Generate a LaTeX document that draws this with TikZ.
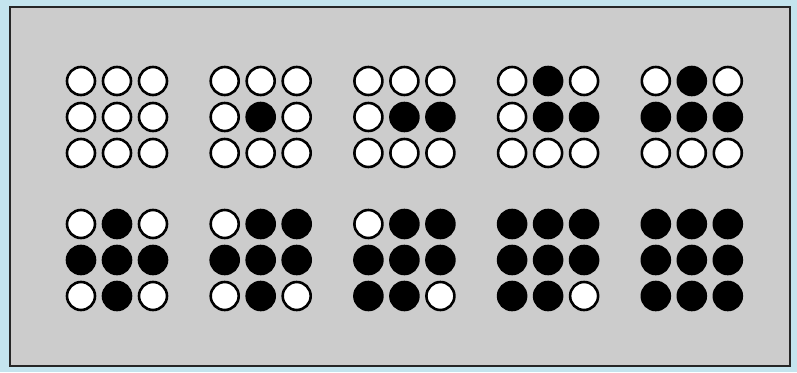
\documentclass[tikz,border=0pt]{standalone}
\begin{document}
\begin{tikzpicture}[x=1pt,y=-1pt,
  dotoff/.style={circle,draw=black,line width=2.6pt,fill=white,minimum size=28pt,inner sep=0pt},
  doton/.style={circle,draw=black,line width=2.6pt,fill=black,minimum size=28pt,inner sep=0pt}]
\definecolor{margblue}{RGB}{196,228,238}
\definecolor{panelgray}{RGB}{204,204,204}
\fill[margblue] (0,0) rectangle (797,372);
\useasboundingbox (0,0) rectangle (797,372);
\fill[panelgray] (10,7) rectangle (790,366);
\draw[line width=2.8pt,black!85] (10,7) rectangle (790,366);
% patterns: rows top->bottom, 1 = filled
\foreach \g/\pat in {0/{0,0,0,0,0,0,0,0,0},1/{0,0,0,0,1,0,0,0,0},2/{0,0,0,0,1,1,0,0,0},3/{0,1,0,0,1,1,0,0,0},4/{0,1,0,1,1,1,0,0,0}}{
  \foreach \v [count=\i from 0] in \pat {
    \pgfmathtruncatemacro{\r}{int(\i/3)}
    \pgfmathtruncatemacro{\c}{mod(\i,3)}
    \pgfmathsetmacro{\xx}{81+143.7*\g+36*\c}
    \pgfmathsetmacro{\yy}{81+36*\r}
    \ifnum\v=1
      \node[doton] (t\g-\i) at (\xx,\yy) {};
    \else
      \node[dotoff] (t\g-\i) at (\xx,\yy) {};
    \fi
  }
}
\foreach \g/\pat in {0/{0,1,0,1,1,1,0,1,0},1/{0,1,1,1,1,1,0,1,0},2/{0,1,1,1,1,1,1,1,0},3/{1,1,1,1,1,1,1,1,0},4/{1,1,1,1,1,1,1,1,1}}{
  \foreach \v [count=\i from 0] in \pat {
    \pgfmathtruncatemacro{\r}{int(\i/3)}
    \pgfmathtruncatemacro{\c}{mod(\i,3)}
    \pgfmathsetmacro{\xx}{81+143.7*\g+36*\c}
    \pgfmathsetmacro{\yy}{224+36*\r}
    \ifnum\v=1
      \node[doton] (b\g-\i) at (\xx,\yy) {};
    \else
      \node[dotoff] (b\g-\i) at (\xx,\yy) {};
    \fi
  }
}
\end{tikzpicture}
\end{document}
